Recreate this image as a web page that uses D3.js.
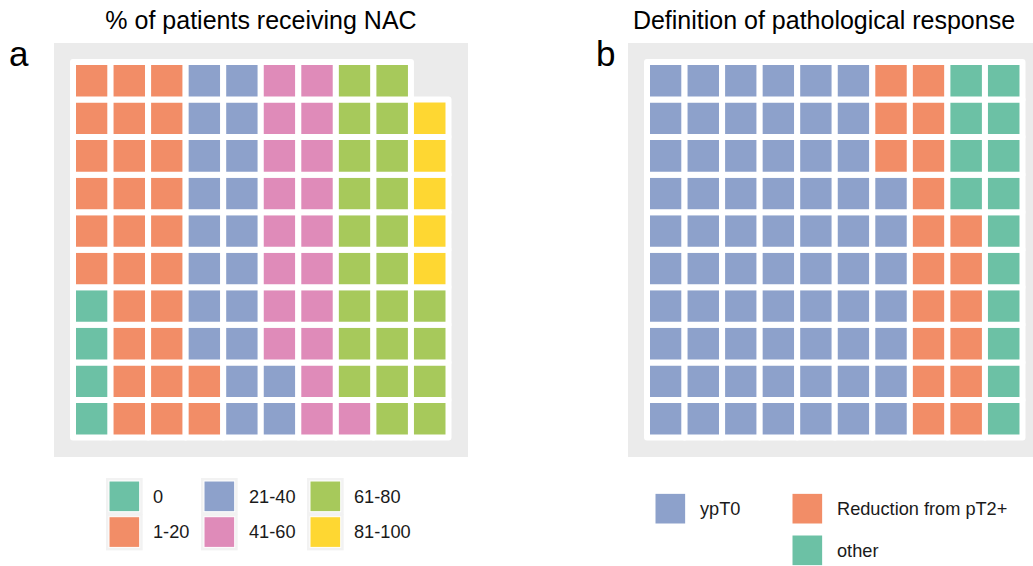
<!DOCTYPE html>
<html>
<head>
<meta charset="utf-8">
<script src="https://cdn.jsdelivr.net/npm/d3@7"></script>
<style>
  html, body { margin: 0; padding: 0; background: #fff; }
  svg { display: block; }
  text { font-family: "Liberation Sans", Arial, Helvetica, sans-serif; }
</style>
</head>
<body>
<svg id="chart" width="1033" height="566"></svg>
<script>
// ---- Data ----
const categoriesA = ["0", "1-20", "21-40", "41-60", "61-80", "81-100"];
const countsA = [4, 28, 20, 19, 23, 5];
const colorsA = ["#6CC1A5", "#F28D67", "#8DA1CB", "#DF8BB9", "#A7C95B", "#FED732"];
const titleA = "% of patients receiving NAC";

const categoriesB = ["ypT0", "Reduction from pT2+", "other"];
const countsB = [67, 19, 14];
const colorsB = ["#8DA1CB", "#F28D67", "#6CC1A5"];
const titleB = "Definition of pathological response";

const nRows = 10, nCols = 10;

// ---- Drawing ----
const svg = d3.select("#chart");

function buildTiles(cats, counts) {
  const tiles = [];
  let i = 0;
  cats.forEach((c, k) => {
    for (let j = 0; j < counts[k]; j++) {
      tiles.push({ cat: c, col: Math.floor(i / nRows), row: i % nRows });
      i++;
    }
  });
  return tiles;
}

function drawPanel(opts) {
  const g = svg.append("g");
  g.append("rect")
    .attr("x", opts.bg[0]).attr("y", opts.bg[1])
    .attr("width", opts.bg[2] - opts.bg[0]).attr("height", opts.bg[3] - opts.bg[1])
    .attr("fill", "#EBEBEB");

  const cell = 37.55;
  const x = d3.scaleBand().domain(d3.range(nCols)).range([opts.x0, opts.x0 + cell * nCols]).padding(0);
  const y = d3.scaleBand().domain(d3.range(nRows)).range([opts.y0 + cell * nRows, opts.y0]).padding(0);
  const color = d3.scaleOrdinal().domain(opts.cats).range(opts.colors);

  const tiles = buildTiles(opts.cats, opts.counts);
  g.selectAll("rect.tile").data(tiles).join("rect")
    .attr("class", "tile")
    .attr("x", d => x(d.col))
    .attr("y", d => y(d.row))
    .attr("width", x.bandwidth())
    .attr("height", y.bandwidth())
    .attr("fill", d => color(d.cat))
    .attr("stroke", "white")
    .attr("stroke-width", 6)
    .attr("stroke-linejoin", "round");

  svg.append("text")
    .attr("x", opts.titleX).attr("y", 29)
    .attr("text-anchor", "middle")
    .attr("font-size", 25)
    .attr("fill", "#000")
    .text(opts.title);

  svg.append("text")
    .attr("x", opts.tagX).attr("y", 66)
    .attr("font-size", 35)
    .attr("fill", "#000")
    .text(opts.tag);

  return color;
}

const colorA = drawPanel({
  bg: [54, 43, 468, 457], x0: 73, y0: 62,
  cats: categoriesA, counts: countsA, colors: colorsA,
  title: titleA, titleX: 261, tag: "a", tagX: 9
});

const colorB = drawPanel({
  bg: [628, 43, 1041, 457], x0: 647, y0: 62,
  cats: categoriesB, counts: countsB, colors: colorsB,
  title: titleB, titleX: 824, tag: "b", tagX: 596
});

// ---- Legend A (3 columns x 2 rows, filled by column) ----
const legA = svg.append("g");
const legAKeyX = [109, 204, 310];
const legALabX = [153, 249, 354];
const legAKeyY = [481, 516.7];
const keyS = 30.7;
categoriesA.forEach((c, i) => {
  const col = Math.floor(i / 2), row = i % 2;
  const kx = legAKeyX[col], ky = legAKeyY[row];
  legA.append("rect")
    .attr("x", kx - 3).attr("y", ky - 3)
    .attr("width", keyS + 6).attr("height", keyS + 6)
    .attr("fill", "#F2F2F2");
  legA.append("rect")
    .attr("x", kx).attr("y", ky)
    .attr("width", keyS).attr("height", keyS)
    .attr("fill", colorA(c))
    .attr("stroke", "white").attr("stroke-width", 1);
  legA.append("text")
    .attr("x", legALabX[col]).attr("y", ky + keyS / 2)
    .attr("dy", "0.35em")
    .attr("font-size", 18.2)
    .attr("fill", "#1a1a1a")
    .text(c);
});

// ---- Legend B ----
const legB = svg.append("g");
const legBPos = [
  { kx: 655, ky: 493.3, lx: 700 },
  { kx: 792, ky: 493.3, lx: 837 },
  { kx: 792, ky: 535, lx: 837 }
];
categoriesB.forEach((c, i) => {
  const p = legBPos[i];
  legB.append("rect")
    .attr("x", p.kx).attr("y", p.ky)
    .attr("width", keyS).attr("height", keyS)
    .attr("fill", colorB(c))
    .attr("stroke", "white").attr("stroke-width", 1);
  legB.append("text")
    .attr("x", p.lx).attr("y", p.ky + keyS / 2)
    .attr("dy", "0.35em")
    .attr("font-size", 18.2)
    .attr("fill", "#1a1a1a")
    .text(c);
});
</script>
</body>
</html>
